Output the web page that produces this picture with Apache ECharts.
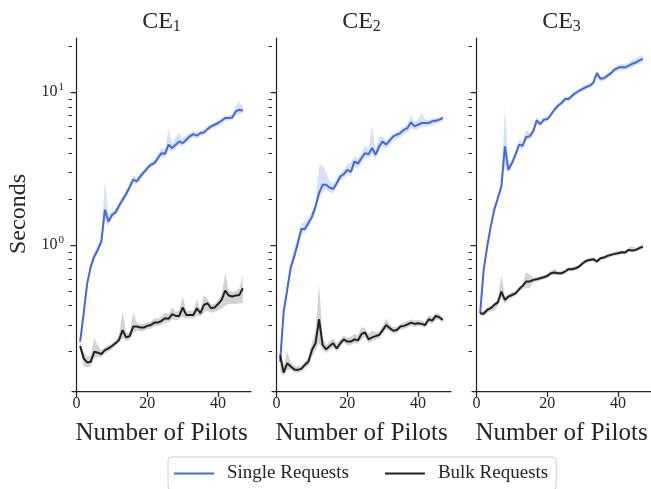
<!DOCTYPE html>
<html><head><meta charset="utf-8">
<script src="https://cdn.jsdelivr.net/npm/echarts@6/dist/echarts.min.js"></script>
<style>html,body{margin:0;padding:0;background:#fff}#c{width:651px;height:489px}</style>
</head><body><div id="c"></div>
<script>
const pilots = [1,2,3,4,5,6,7,8,9,10,11,12,13,14,15,16,17,18,19,20,21,22,23,24,25,26,27,28,29,30,31,32,33,34,35,36,37,38,39,40,41,42,43,44,45,46,47];
const panelTitles = ['CE', 'CE', 'CE'];
const panelSubs = ['1', '2', '3'];
const seriesNames = ['Single Requests', 'Bulk Requests'];
const xTicks = [0, 20, 40];
const yMajor = [1, 10];
const yMinor = [0.2,0.3,0.4,0.5,0.6,0.7,0.8,0.9,2,3,4,5,6,7,8,9,20];

// CE1
const single1 = [0.233,0.356,0.56,0.72,0.84,0.93,1.05,1.7,1.42,1.57,1.63,1.8,1.97,2.15,2.39,2.67,2.6,2.8,2.98,3.18,3.34,3.43,3.7,3.98,3.94,4.52,4.3,4.52,4.75,4.63,4.87,5.13,5.31,5.18,5.39,5.44,5.72,5.96,6.11,6.27,6.49,6.76,6.76,6.82,7.47,7.66,7.55];
const single1Hi = [0.25,0.38,0.6,0.77,0.9,1.0,1.12,2.6,1.55,1.65,1.72,1.9,2.08,2.28,2.5,2.85,2.75,2.95,3.1,3.3,3.5,3.6,3.95,4.3,4.2,5.75,4.6,5.1,5.4,5.0,5.2,5.4,5.6,5.45,5.6,5.7,5.95,6.2,6.35,6.5,6.75,7.0,7.05,7.1,8.2,8.6,8.1];
const single1Lo = [0.22,0.34,0.53,0.68,0.8,0.88,1.0,1.45,1.32,1.48,1.55,1.7,1.87,2.04,2.27,2.52,2.48,2.66,2.84,3.05,3.2,3.28,3.5,3.75,3.7,4.2,4.05,4.3,4.5,4.4,4.65,4.9,5.05,4.95,5.15,5.2,5.5,5.7,5.85,6.0,6.2,6.45,6.5,6.55,7.0,7.2,7.2];
const bulk1 = [0.218,0.181,0.170,0.172,0.20,0.197,0.193,0.205,0.21,0.218,0.227,0.239,0.277,0.248,0.253,0.292,0.292,0.288,0.288,0.295,0.299,0.31,0.31,0.318,0.331,0.328,0.352,0.343,0.343,0.389,0.348,0.348,0.348,0.385,0.357,0.405,0.415,0.385,0.389,0.41,0.436,0.502,0.466,0.459,0.466,0.47,0.52];
const bulk1Hi = [0.23,0.2,0.185,0.19,0.245,0.22,0.205,0.215,0.22,0.228,0.237,0.255,0.366,0.265,0.27,0.36,0.31,0.305,0.305,0.31,0.315,0.33,0.33,0.34,0.36,0.35,0.39,0.365,0.37,0.459,0.37,0.37,0.37,0.44,0.38,0.47,0.44,0.41,0.41,0.435,0.47,0.652,0.5,0.49,0.5,0.52,0.627];
const bulk1Lo = [0.205,0.16,0.158,0.16,0.18,0.185,0.183,0.195,0.2,0.208,0.217,0.228,0.245,0.235,0.24,0.265,0.275,0.272,0.274,0.28,0.284,0.293,0.295,0.3,0.31,0.31,0.325,0.322,0.325,0.34,0.33,0.33,0.33,0.345,0.34,0.36,0.37,0.36,0.365,0.37,0.385,0.4,0.41,0.41,0.41,0.415,0.415];

// CE2
const single2 = [0.172,0.366,0.507,0.714,0.84,1.03,1.27,1.27,1.39,1.53,1.78,2.18,2.47,2.47,2.37,2.32,2.53,2.8,2.9,3.1,3.0,3.52,3.4,3.7,3.98,3.92,4.3,3.89,4.41,4.75,4.52,4.82,5.13,5.26,5.39,5.66,5.81,6.33,5.96,6.11,6.27,6.27,6.27,6.43,6.49,6.59,6.76];
const single2Hi = [0.19,0.4,0.56,0.78,0.95,1.12,1.38,1.42,1.5,1.65,1.92,3.26,3.33,3.0,2.6,2.5,2.7,2.98,3.1,3.35,3.45,3.8,3.65,4.0,4.5,4.2,6.0,4.2,5.1,5.1,4.8,5.1,5.4,5.5,5.65,5.95,6.1,7.1,6.4,6.6,7.3,6.6,6.55,6.7,6.75,6.85,7.0];
const single2Lo = [0.16,0.34,0.47,0.66,0.78,0.96,1.18,1.2,1.3,1.43,1.65,2.0,2.2,2.3,2.22,2.18,2.37,2.62,2.72,2.9,2.82,3.25,3.18,3.45,3.7,3.68,3.95,3.65,4.1,4.4,4.25,4.5,4.8,4.95,5.05,5.3,5.45,5.8,5.6,5.75,5.9,5.95,5.95,6.1,6.2,6.3,6.45];
const bulk2 = [0.19,0.146,0.168,0.16,0.153,0.152,0.155,0.164,0.172,0.205,0.227,0.326,0.222,0.207,0.218,0.227,0.21,0.227,0.241,0.233,0.233,0.241,0.237,0.261,0.267,0.241,0.248,0.253,0.257,0.277,0.299,0.285,0.274,0.277,0.292,0.295,0.302,0.31,0.304,0.307,0.304,0.299,0.326,0.319,0.343,0.336,0.322];
const bulk2Hi = [0.2,0.16,0.2,0.172,0.162,0.16,0.163,0.172,0.185,0.23,0.27,0.547,0.25,0.222,0.235,0.245,0.226,0.24,0.255,0.248,0.25,0.262,0.255,0.29,0.285,0.262,0.275,0.268,0.272,0.295,0.33,0.3,0.29,0.292,0.305,0.31,0.318,0.325,0.32,0.322,0.32,0.315,0.345,0.34,0.36,0.352,0.335];
const bulk2Lo = [0.15,0.14,0.152,0.152,0.146,0.145,0.148,0.156,0.163,0.185,0.205,0.227,0.205,0.195,0.205,0.212,0.2,0.215,0.228,0.22,0.22,0.228,0.225,0.24,0.25,0.228,0.235,0.24,0.244,0.262,0.28,0.272,0.262,0.265,0.28,0.282,0.288,0.296,0.29,0.294,0.292,0.287,0.31,0.305,0.325,0.322,0.31];

// CE3
const single3 = [0.357,0.686,0.976,1.32,1.7,2.02,2.41,4.41,3.1,3.43,3.89,4.52,4.45,5.07,5.13,5.53,6.52,6.17,6.59,6.65,7.1,7.66,8.13,8.47,9.0,9.0,9.46,9.85,10.2,10.5,10.8,11.0,11.5,13.3,12.2,12.3,12.8,13.3,14.0,14.4,14.6,14.5,14.9,15.3,15.6,16.1,16.5];
const single3Hi = [0.375,0.72,1.03,1.39,1.78,2.12,2.55,7.9,3.3,3.6,4.1,4.9,4.7,5.66,5.4,5.8,6.9,6.45,6.85,6.95,7.4,7.95,8.45,8.8,9.35,9.35,9.8,10.2,10.6,10.9,11.2,11.4,11.9,13.8,12.7,12.8,13.3,13.8,14.6,15.0,15.3,15.2,15.7,16.2,16.6,17.1,17.5];
const single3Lo = [0.34,0.65,0.93,1.25,1.62,1.93,2.3,3.2,2.95,3.27,3.7,4.3,4.25,4.85,4.9,5.28,6.15,5.9,6.33,6.38,6.8,7.37,7.82,8.15,8.65,8.67,9.1,9.5,9.82,10.1,10.4,10.6,11.1,12.6,11.7,11.8,12.3,12.8,13.4,13.8,14.0,13.9,14.2,14.5,14.8,15.3,15.6];
const bulk3 = [0.357,0.354,0.375,0.385,0.405,0.42,0.495,0.436,0.459,0.47,0.482,0.512,0.539,0.575,0.575,0.59,0.596,0.605,0.614,0.627,0.652,0.659,0.652,0.652,0.669,0.693,0.693,0.703,0.721,0.758,0.786,0.797,0.806,0.778,0.818,0.826,0.847,0.86,0.873,0.882,0.895,0.891,0.927,0.918,0.927,0.951,0.975];
const bulk3Hi = [0.37,0.368,0.39,0.4,0.42,0.44,0.636,0.46,0.48,0.49,0.5,0.53,0.56,0.66,0.64,0.61,0.615,0.625,0.634,0.648,0.675,0.7,0.672,0.672,0.69,0.715,0.715,0.725,0.745,0.78,0.81,0.82,0.83,0.8,0.84,0.85,0.87,0.885,0.9,0.91,0.92,0.92,0.96,0.98,0.955,0.98,1.0];
const bulk3Lo = [0.345,0.343,0.36,0.365,0.37,0.395,0.45,0.41,0.44,0.45,0.465,0.492,0.515,0.525,0.52,0.565,0.575,0.585,0.595,0.605,0.63,0.636,0.632,0.632,0.648,0.672,0.672,0.682,0.7,0.735,0.762,0.774,0.782,0.756,0.795,0.802,0.822,0.835,0.848,0.856,0.87,0.865,0.9,0.89,0.9,0.925,0.95];

const panels = [
  {single: single1, singleHi: single1Hi, singleLo: single1Lo, bulk: bulk1, bulkHi: bulk1Hi, bulkLo: bulk1Lo},
  {single: single2, singleHi: single2Hi, singleLo: single2Lo, bulk: bulk2, bulkHi: bulk2Hi, bulkLo: bulk2Lo},
  {single: single3, singleHi: single3Hi, singleLo: single3Lo, bulk: bulk3, bulkHi: bulk3Hi, bulkLo: bulk3Lo}
];

const FONT = 'Liberation Serif';
const INK = '#262626';
const BLUE = '#4169e1';
const BLACK = '#212121';
const Y_MIN = 0.1106, Y_MAX = 22.57;
const X_MIN = -1.3, X_MAX = 49.3;
const GL = 72, GW = 179, GSTEP = 200, GT = 38, GH = 353;

const chart = echarts.init(document.getElementById('c'), null, {renderer: 'canvas'});

const grids = [], xAxes = [], yAxes = [], series = [], graphics = [];

function band(gi, lo, hi, fill) {
  return {
    type: 'custom', xAxisIndex: gi, yAxisIndex: gi * 2, silent: true, z: 1,
    data: pilots.map((x, i) => [x, lo[i], hi[i]]),
    encode: {x: 0, y: [1, 2]},
    renderItem: function (params, api) {
      if (params.dataIndex !== 0) return null;
      const pts = [];
      for (let i = 0; i < pilots.length; i++) pts.push(api.coord([pilots[i], hi[i]]));
      for (let i = pilots.length - 1; i >= 0; i--) pts.push(api.coord([pilots[i], lo[i]]));
      return {type: 'polygon', shape: {points: pts}, style: {fill: fill, stroke: null}};
    }
  };
}

panels.forEach((p, gi) => {
  const left = GL + gi * GSTEP;
  grids.push({left: left, top: GT, width: GW, height: GH});
  xAxes.push({
    type: 'value', gridIndex: gi, min: X_MIN, max: X_MAX, position: 'bottom',
    axisLine: {show: true, lineStyle: {color: INK, width: 1.25}},
    axisTick: {show: true, length: 6, customValues: xTicks, lineStyle: {color: INK, width: 1.25}},
    axisLabel: {customValues: xTicks, color: INK, fontFamily: FONT, fontSize: 16, margin: 5},
    splitLine: {show: false}
  });
  yAxes.push({
    type: 'log', logBase: 10, gridIndex: gi, min: Y_MIN, max: Y_MAX, position: 'left', offset: 0,
    axisLine: {show: true, lineStyle: {color: INK, width: 1.25}},
    axisTick: {show: true, length: 6, customValues: yMajor, lineStyle: {color: INK, width: 1.25}},
    axisLabel: gi === 0 ? {
      customValues: yMajor, color: INK, fontFamily: FONT, margin: 8,
      formatter: v => (Math.abs(v - 10) < 1e-9 ? '{b|10}{s|1}' : '{b|10}{s|0}'),
      rich: {
        b: {fontSize: 16, fontFamily: FONT, color: INK},
        s: {fontSize: 11, fontFamily: FONT, color: INK, padding: [0, 0, 9, 1]}
      }
    } : {show: false},
    splitLine: {show: false}
  });
  yAxes.push({
    type: 'log', logBase: 10, gridIndex: gi, min: Y_MIN, max: Y_MAX, position: 'left', offset: 0,
    axisLine: {show: false},
    axisTick: {show: true, length: 3.5, customValues: yMinor, lineStyle: {color: INK, width: 1}},
    axisLabel: {show: false},
    splitLine: {show: false}
  });
  series.push(band(gi, p.singleLo, p.singleHi, 'rgba(65,105,225,0.2)'));
  series.push(band(gi, p.bulkLo, p.bulkHi, 'rgba(33,33,33,0.2)'));
  series.push({
    type: 'line', name: seriesNames[0], xAxisIndex: gi, yAxisIndex: gi * 2, z: 3,
    data: pilots.map((x, i) => [x, p.single[i]]),
    symbol: 'none', showSymbol: false, lineStyle: {color: BLUE, width: 2}, itemStyle: {color: BLUE}
  });
  series.push({
    type: 'line', name: seriesNames[1], xAxisIndex: gi, yAxisIndex: gi * 2, z: 3,
    data: pilots.map((x, i) => [x, p.bulk[i]]),
    symbol: 'none', showSymbol: false, lineStyle: {color: BLACK, width: 2}, itemStyle: {color: BLACK}
  });
  const cx = left + GW / 2;
  graphics.push({
    type: 'text', x: cx, y: 22,
    style: {
      text: '{b|' + panelTitles[gi] + '}{s|' + panelSubs[gi] + '}',
      align: 'center', verticalAlign: 'middle',
      rich: {
        b: {fontSize: 24, fontFamily: FONT, fill: INK},
        s: {fontSize: 16, fontFamily: FONT, fill: INK, padding: [10, 0, 0, 0]}
      }
    }
  });
  graphics.push({
    type: 'text', x: cx, y: 433,
    style: {text: 'Number of Pilots', align: 'center', verticalAlign: 'middle', fontSize: 25, fontFamily: FONT, fill: INK}
  });
});

graphics.push({
  type: 'text', x: 19, y: 214, rotation: Math.PI / 2,
  style: {text: 'Seconds', align: 'center', verticalAlign: 'middle', fontSize: 24, fontFamily: FONT, fill: INK}
});

chart.setOption({
  animation: false,
  backgroundColor: '#fff',
  grid: grids, xAxis: xAxes, yAxis: yAxes, series: series,
  graphic: graphics,
  legend: {
    data: seriesNames.map(n => ({name: n, icon: 'rect'})),
    left: 168, top: 457,
    borderColor: '#d0d0d0', borderWidth: 1, borderRadius: 4,
    padding: [7, 8, 7, 6], itemGap: 36, itemWidth: 40, itemHeight: 2,
    textStyle: {fontFamily: FONT, fontSize: 19, color: INK, padding: [0, 0, 0, 8]}
  }
});
</script></body></html>
